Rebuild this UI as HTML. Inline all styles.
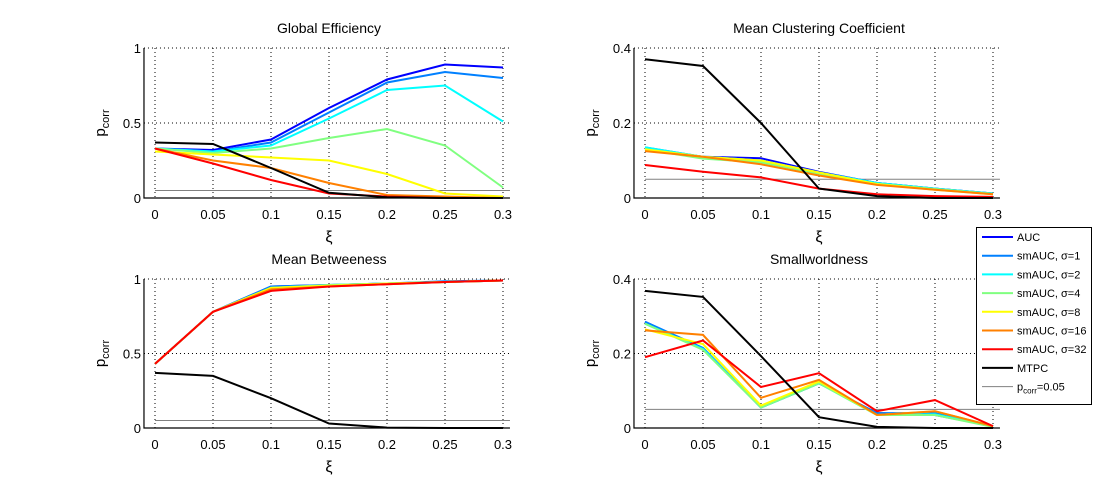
<!DOCTYPE html>
<html><head><meta charset="utf-8"><style>
body{margin:0;background:#fff;}
svg{display:block;font-family:"Liberation Sans",sans-serif;}
</style></head><body>
<svg id="fig" width="1111" height="486" viewBox="0 0 1111 486" xmlns="http://www.w3.org/2000/svg"></svg>
<script>
const xs=[0,0.05,0.1,0.15,0.2,0.25,0.3];
const xTickLabels=["0","0.05","0.1","0.15","0.2","0.25","0.3"];
const seriesNames=["AUC","smAUC, σ=1","smAUC, σ=2","smAUC, σ=4","smAUC, σ=8","smAUC, σ=16","smAUC, σ=32","MTPC"];
const seriesColors=["#0000ff","#0080ff","#00ffff","#80ff80","#ffff00","#ff8000","#ff0000","#000000"];
const threshold=0.05;
const geAUC=[0.33,0.32,0.39,0.60,0.79,0.89,0.87];
const geS1=[0.33,0.31,0.37,0.57,0.77,0.84,0.80];
const geS2=[0.33,0.31,0.35,0.53,0.72,0.75,0.51];
const geS4=[0.33,0.30,0.33,0.40,0.46,0.35,0.07];
const geS8=[0.31,0.29,0.27,0.25,0.16,0.03,0.01];
const geS16=[0.33,0.25,0.20,0.10,0.02,0.01,0.00];
const geS32=[0.33,0.23,0.12,0.03,0.01,0.00,0.00];
const geMTPC=[0.37,0.36,0.20,0.035,0.005,0,0];
const ccAUC=[0.13,0.11,0.106,0.07,0.04,0.025,0.012];
const ccS1=[0.135,0.11,0.10,0.068,0.04,0.025,0.012];
const ccS2=[0.135,0.11,0.10,0.068,0.04,0.025,0.012];
const ccS4=[0.13,0.105,0.095,0.065,0.038,0.024,0.011];
const ccS8=[0.13,0.11,0.10,0.068,0.037,0.022,0.01];
const ccS16=[0.125,0.11,0.09,0.06,0.035,0.022,0.01];
const ccS32=[0.088,0.07,0.055,0.025,0.01,0.005,0.003];
const ccMTPC=[0.37,0.352,0.20,0.025,0.005,0,0];
const mbAUC=[0.43,0.78,0.95,0.96,0.97,0.98,0.99];
const mbS1=[0.43,0.78,0.95,0.96,0.97,0.985,0.99];
const mbS2=[0.43,0.78,0.94,0.96,0.97,0.98,0.99];
const mbS4=[0.43,0.78,0.94,0.96,0.97,0.98,0.99];
const mbS8=[0.43,0.78,0.94,0.955,0.97,0.98,0.99];
const mbS16=[0.43,0.78,0.93,0.95,0.965,0.98,0.99];
const mbS32=[0.43,0.78,0.92,0.95,0.965,0.98,0.99];
const mbMTPC=[0.37,0.35,0.20,0.03,0.003,0,0];
const swAUC=[0.285,0.212,0.055,0.12,0.04,0.035,0.005];
const swS1=[0.285,0.215,0.055,0.12,0.04,0.04,0.005];
const swS2=[0.28,0.212,0.055,0.12,0.035,0.037,0.004];
const swS4=[0.28,0.21,0.055,0.12,0.035,0.035,0.003];
const swS8=[0.265,0.225,0.06,0.125,0.035,0.045,0.005];
const swS16=[0.262,0.25,0.081,0.129,0.035,0.045,0.005];
const swS32=[0.19,0.235,0.11,0.147,0.045,0.075,0.005];
const swMTPC=[0.368,0.352,0.193,0.029,0.003,0,0];
const panels=[
 {name:"global-efficiency",title:"Global Efficiency",x0:155,y0:198,yTop:48,ymax:1,yt:[0,0.5,1],ytl:["0","0.5","1"],data:[geAUC,geS1,geS2,geS4,geS8,geS16,geS32,geMTPC]},
 {name:"mean-clustering",title:"Mean Clustering Coefficient",x0:645,y0:198,yTop:48,ymax:0.4,yt:[0,0.2,0.4],ytl:["0","0.2","0.4"],data:[ccAUC,ccS1,ccS2,ccS4,ccS8,ccS16,ccS32,ccMTPC]},
 {name:"mean-betweeness",title:"Mean Betweeness",x0:155,y0:428,yTop:279,ymax:1,yt:[0,0.5,1],ytl:["0","0.5","1"],data:[mbAUC,mbS1,mbS2,mbS4,mbS8,mbS16,mbS32,mbMTPC]},
 {name:"smallworldness",title:"Smallworldness",x0:645,y0:428,yTop:279,ymax:0.4,yt:[0,0.2,0.4],ytl:["0","0.2","0.4"],data:[swAUC,swS1,swS2,swS4,swS8,swS16,swS32,swMTPC]}
];
const NS="http://www.w3.org/2000/svg";
const svg=document.getElementById('fig');
function mk(tag,attrs,parent,text){const e=document.createElementNS(NS,tag);for(const k in attrs)e.setAttribute(k,attrs[k]);if(text!==undefined)e.textContent=text;parent.appendChild(e);return e;}
const PX=348/0.3;
panels.forEach(p=>{
 const g=mk('g',{},svg);
 
 
 const X=v=>p.x0+v*PX;
 const Y=v=>p.y0-(v/p.ymax)*(p.y0-p.yTop);
 const left=X(-0.0095), right=X(0.306);
 xs.forEach((v,i)=>{
  const l=mk('line',{x1:X(v),x2:X(v),y1:p.yTop,y2:p.y0,stroke:"#000","stroke-width":1,"stroke-dasharray":"1,3"},g);
  
  const t=mk('text',{x:X(v),y:p.y0+21,"font-size":13,"text-anchor":"middle"},g,xTickLabels[i]);
  
 });
 p.yt.forEach((v,i)=>{
  if(v>0){const l=mk('line',{x1:left,x2:right,y1:Y(v),y2:Y(v),stroke:"#000","stroke-width":1,"stroke-dasharray":"1,3"},g);
  }
  const t=mk('text',{x:left-3,y:Y(v)+5,"font-size":13,"text-anchor":"end"},g,p.ytl[i]);
  
 });
 const th=mk('line',{x1:X(0),x2:right,y1:Y(threshold),y2:Y(threshold),stroke:"#808080","stroke-width":1},g);
 
 p.data.forEach((arr,si)=>{
  const pts=arr.map((v,i)=>X(xs[i]).toFixed(1)+","+Y(v).toFixed(1)).join(" ");
  const pl=mk('polyline',{points:pts,fill:"none",stroke:seriesColors[si],"stroke-width":2,"stroke-linejoin":"miter"},g);
  
 });
 const ax=mk('path',{d:`M${left},${p.yTop}V${p.y0}H${right}`,fill:"none",stroke:"#000","stroke-width":1.2},g);
 
 const tt=mk('text',{x:X(0.15),y:p.yTop-15,"font-size":14,"text-anchor":"middle"},g,p.title);
 
 const xl=mk('text',{x:X(0.15),y:p.y0+44,"font-size":16,"text-anchor":"middle"},g,"ξ");
 
 const cy=(p.y0+p.yTop)/2, cx=p.x0-50;
 const yl=mk('text',{x:cx,y:cy,"font-size":15,"text-anchor":"middle",transform:`rotate(-90 ${cx} ${cy})`},g);
 
 mk('tspan',{},yl,"p");mk('tspan',{"font-size":11,dy:4},yl,"corr");
});
const lg=mk('g',{},svg);


mk('rect',{x:976.5,y:227.5,width:115,height:177,fill:"#fff",stroke:"#000","stroke-width":1},lg);
const names=seriesNames.concat(["pcorr"]);
names.forEach((n,i)=>{
 const y=237+i*18.7;
 const e=mk('g',{},lg);
 
 
 mk('line',{x1:982,x2:1013,y1:y,y2:y,stroke:i<8?seriesColors[i]:"#808080","stroke-width":i<8?2:1},e);
 const t=mk('text',{x:1017,y:y+4,"font-size":11},e);
 if(i<8)t.textContent=n;else{mk('tspan',{},t,"p");mk('tspan',{"font-size":8,dy:3},t,"corr");mk('tspan',{dy:-3},t,"=0.05");}
});
</script>
</body></html>
